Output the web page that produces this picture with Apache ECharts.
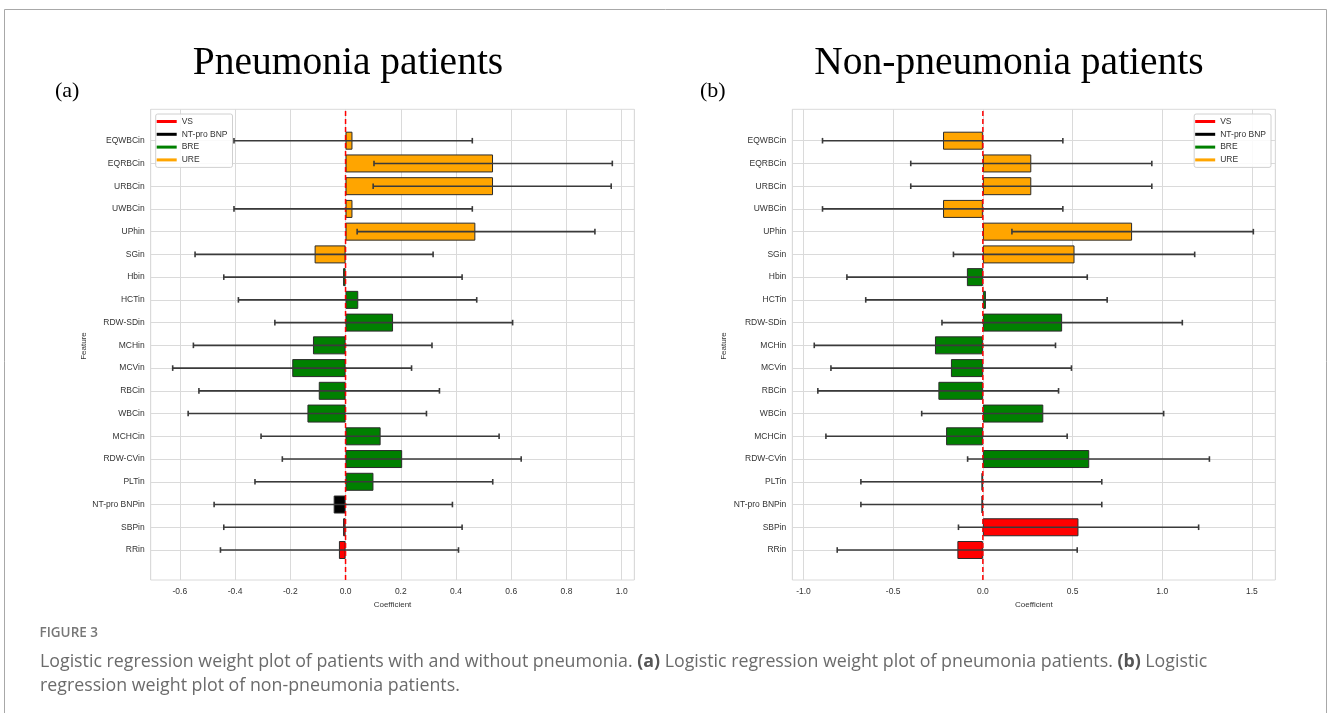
<!DOCTYPE html>
<html>
<head>
<meta charset="utf-8">
<title>Logistic regression weight plot</title>
<script src="https://cdn.jsdelivr.net/npm/echarts@6/dist/echarts.min.js"></script>
<style>
  html, body { margin: 0; padding: 0; background: #fff; }
  #chart { width: 1328px; height: 713px; }
</style>
</head>
<body>
<div id="chart"></div>
<script>
// Features, listed top to bottom
const features = ['EQWBCin', 'EQRBCin', 'URBCin', 'UWBCin', 'UPhin', 'SGin', 'Hbin', 'HCTin',
  'RDW-SDin', 'MCHin', 'MCVin', 'RBCin', 'WBCin', 'MCHCin', 'RDW-CVin', 'PLTin',
  'NT-pro BNPin', 'SBPin', 'RRin'];
const featureGroup = ['URE', 'URE', 'URE', 'URE', 'URE', 'URE', 'BRE', 'BRE',
  'BRE', 'BRE', 'BRE', 'BRE', 'BRE', 'BRE', 'BRE', 'BRE',
  'NT-pro BNP', 'VS', 'VS'];
const groups = ['VS', 'NT-pro BNP', 'BRE', 'URE'];
const groupColors = ['#ff0000', '#000000', '#008000', '#ffa500'];

// (a) pneumonia patients: coefficient with lower / upper bounds
const coefA = [0.025, 0.534, 0.534, 0.025, 0.470, -0.112, -0.009, 0.046,
  0.172, -0.118, -0.193, -0.097, -0.138, 0.127, 0.205, 0.101,
  -0.043, -0.009, -0.024];
const lowA = [-0.404, 0.103, 0.100, -0.404, 0.042, -0.545, -0.441, -0.388,
  -0.256, -0.551, -0.626, -0.531, -0.570, -0.306, -0.229, -0.328,
  -0.476, -0.441, -0.453];
const highA = [0.459, 0.966, 0.962, 0.459, 0.903, 0.317, 0.422, 0.475,
  0.605, 0.313, 0.239, 0.340, 0.293, 0.556, 0.636, 0.533,
  0.387, 0.422, 0.409];

// (b) non-pneumonia patients
const coefB = [-0.222, 0.270, 0.270, -0.222, 0.832, 0.511, -0.089, 0.017,
  0.442, -0.267, -0.178, -0.248, 0.337, -0.205, 0.593, -0.008,
  -0.008, 0.533, -0.142];
const lowB = [-0.894, -0.402, -0.402, -0.894, 0.162, -0.164, -0.758, -0.653,
  -0.228, -0.940, -0.847, -0.920, -0.341, -0.875, -0.085, -0.680,
  -0.680, -0.136, -0.812];
const highB = [0.446, 0.942, 0.942, 0.446, 1.508, 1.181, 0.582, 0.693,
  1.112, 0.405, 0.494, 0.422, 1.008, 0.470, 1.263, 0.663,
  0.663, 1.203, 0.526];

// Tick labels of the coefficient axes
const ticksA = [-0.6, -0.4, -0.2, 0.0, 0.2, 0.4, 0.6, 0.8, 1.0];
const ticksB = [-1.0, -0.5, 0.0, 0.5, 1.0, 1.5];
const zeroLine = [0];

const GRID_COLOR = '#dadada';
const TEXT_COLOR = '#333';
const SANS = '"Liberation Sans", Arial, sans-serif';
const CAPTION_FONT = '"Open Sans", "Noto Sans", sans-serif';

// axis extent: data range with a 5% margin on each side
function extent(low, high) {
  const lo = Math.min(...low), hi = Math.max(...high);
  const pad = (hi - lo) * 0.05;
  return [lo - pad, hi + pad];
}

function tickFormatter(ticks) {
  return function (v) {
    return ticks.some(t => Math.abs(t - v) < 1e-6) ? v.toFixed(1) : '';
  };
}

function panel(idx, frame, plotTop, plotHeight, coef, low, high, ticks, step, legendPos) {
  const ext = extent(low, high);
  const gFrame = idx * 2, gPlot = idx * 2 + 1;
  const grids = [
    { left: frame.left, top: frame.top, width: frame.width, height: frame.height,
      show: true, borderColor: GRID_COLOR, borderWidth: 1, backgroundColor: '#fff' },
    { left: frame.left, top: plotTop, width: frame.width, height: plotHeight }
  ];
  const xAxes = [
    { gridIndex: gFrame, type: 'value', min: ext[0], max: ext[1],
      splitNumber: Math.round((ext[1] - ext[0]) / step),
      minInterval: step, maxInterval: step,
      axisLine: { show: false }, axisTick: { show: false },
      splitLine: { show: true, lineStyle: { color: GRID_COLOR, width: 1 } },
      axisLabel: { formatter: tickFormatter(ticks), fontSize: 8.5, color: TEXT_COLOR,
        fontFamily: SANS, margin: 7 },
      name: 'Coefficient', nameLocation: 'middle', nameGap: 21,
      nameTextStyle: { fontSize: 8, color: TEXT_COLOR, fontFamily: SANS } },
    { gridIndex: gPlot, type: 'value', min: ext[0], max: ext[1], show: false }
  ];
  const yAxes = [
    { gridIndex: gFrame, type: 'value', min: 0, max: 1, show: false },
    { gridIndex: gPlot, type: 'category', data: features, inverse: true, boundaryGap: false,
      axisLine: { show: false }, axisTick: { show: false },
      splitLine: { show: true, interval: 0, lineStyle: { color: GRID_COLOR, width: 1 } },
      axisLabel: { interval: 0, fontSize: 8.5, color: TEXT_COLOR, fontFamily: SANS, margin: 6 } }
  ];
  const series = [];
  // dashed zero reference line across the whole frame
  series.push({
    type: 'custom', xAxisIndex: gFrame, yAxisIndex: gFrame, z: 5, silent: true,
    data: zeroLine.map(v => [v]),
    renderItem: function (params, api) {
      const a = api.coord([api.value(0), 0]);
      const b = api.coord([api.value(0), 1]);
      return { type: 'line', shape: { x1: a[0], y1: a[1], x2: b[0], y2: b[1] },
        style: { stroke: '#ff0000', lineWidth: 1.5, lineDash: [5, 3] } };
    }
  });
  // bars, one series per feature group
  groups.forEach((g, gi) => {
    series.push({
      type: 'bar', name: g, xAxisIndex: gPlot, yAxisIndex: gPlot,
      barWidth: 18, barGap: '-100%', z: 3,
      itemStyle: { color: groupColors[gi], borderColor: '#2b2b2b', borderWidth: 1 },
      data: coef.map((v, i) => featureGroup[i] === g ? v : '-')
    });
  });
  // error bars
  series.push({
    type: 'custom', xAxisIndex: gPlot, yAxisIndex: gPlot, z: 6, silent: true,
    encode: { x: [0, 1], y: 2 },
    data: features.map((f, i) => [low[i], high[i], i]),
    renderItem: function (params, api) {
      const p1 = api.coord([api.value(0), api.value(2)]);
      const p2 = api.coord([api.value(1), api.value(2)]);
      const cap = 2.8;
      const st = { stroke: '#3a3a3a', lineWidth: 1.6 };
      return { type: 'group', children: [
        { type: 'line', shape: { x1: p1[0], y1: p1[1], x2: p2[0], y2: p2[1] }, style: st },
        { type: 'line', shape: { x1: p1[0], y1: p1[1] - cap, x2: p1[0], y2: p1[1] + cap }, style: st },
        { type: 'line', shape: { x1: p2[0], y1: p2[1] - cap, x2: p2[0], y2: p2[1] + cap }, style: st }
      ] };
    }
  });
  const legend = Object.assign({
    data: groups, orient: 'vertical', top: 114,
    icon: 'rect', itemWidth: 20, itemHeight: 3, itemGap: 1.8,
    itemStyle: { borderWidth: 0 },
    padding: [2, 5, 2, 1],
    backgroundColor: 'rgba(255,255,255,0.85)', borderColor: '#d0d0d0', borderWidth: 1, borderRadius: 2,
    textStyle: { fontSize: 8.5, color: TEXT_COLOR, fontFamily: SANS, lineHeight: 11 },
    selectedMode: false
  }, legendPos);
  return { grids, xAxes, yAxes, series, legend };
}

const pa = panel(0, { left: 150.7, top: 109.3, width: 483.6, height: 470.7 }, 140.7, 409.3,
  coefA, lowA, highA, ticksA, 0.2, { left: 155.7 });
const pb = panel(1, { left: 792.3, top: 109.3, width: 483, height: 470.7 }, 140.7, 409.3,
  coefB, lowB, highB, ticksB, 0.5, { right: 57 });

const captionStyle = { fontFamily: CAPTION_FONT, fontSize: 17.8, fill: '#6b6b6b' };
const boldRich = { b: { fontFamily: CAPTION_FONT, fontSize: 17.8, fontWeight: 'bold', fill: '#555' } };

const option = {
  animation: false,
  backgroundColor: '#fff',
  grid: pa.grids.concat(pb.grids),
  xAxis: pa.xAxes.concat(pb.xAxes),
  yAxis: pa.yAxes.concat(pb.yAxes),
  legend: [pa.legend, pb.legend],
  series: pa.series.concat(pb.series),
  graphic: [
    { type: 'rect', z: 100, silent: true,
      shape: { x: 4.5, y: 9.5, width: 1322, height: 720 },
      style: { fill: 'none', stroke: '#a8a8a8', lineWidth: 1 } },
    { type: 'text', x: 348, y: 64, silent: true,
      style: { text: 'Pneumonia patients', font: '39.5px "Liberation Serif", "Times New Roman", serif',
        fill: '#000', align: 'center', verticalAlign: 'middle' } },
    { type: 'text', x: 1009, y: 64, silent: true,
      style: { text: 'Non-pneumonia patients', font: '39.5px "Liberation Serif", "Times New Roman", serif',
        fill: '#000', align: 'center', verticalAlign: 'middle' } },
    { type: 'text', x: 55, y: 91, silent: true,
      style: { text: '(a)', font: '22px "Liberation Serif", "Times New Roman", serif',
        fill: '#000', align: 'left', verticalAlign: 'middle' } },
    { type: 'text', x: 700, y: 91, silent: true,
      style: { text: '(b)', font: '22px "Liberation Serif", "Times New Roman", serif',
        fill: '#000', align: 'left', verticalAlign: 'middle' } },
    { type: 'text', x: 84, y: 346, rotation: Math.PI / 2, silent: true,
      style: { text: 'Feature', fontSize: 8, fontFamily: SANS, fill: TEXT_COLOR,
        align: 'center', verticalAlign: 'middle' } },
    { type: 'text', x: 724, y: 346, rotation: Math.PI / 2, silent: true,
      style: { text: 'Feature', fontSize: 8, fontFamily: SANS, fill: TEXT_COLOR,
        align: 'center', verticalAlign: 'middle' } },
    { type: 'text', x: 39.5, y: 633, silent: true,
      style: { text: 'FIGURE 3', fontFamily: CAPTION_FONT, fontSize: 13.5,
        fontWeight: 600, fill: '#777', align: 'left', verticalAlign: 'middle' } },
    { type: 'text', x: 40, y: 661.5, silent: true,
      style: Object.assign({
        text: 'Logistic regression weight plot of patients with and without pneumonia. {b|(a)} Logistic regression weight plot of pneumonia patients. {b|(b)} Logistic',
        rich: boldRich, align: 'left', verticalAlign: 'middle' }, captionStyle) },
    { type: 'text', x: 40, y: 685.5, silent: true,
      style: Object.assign({
        text: 'regression weight plot of non-pneumonia patients.',
        align: 'left', verticalAlign: 'middle' }, captionStyle) }
  ]
};

const chart = echarts.init(document.getElementById('chart'), null, { renderer: 'canvas' });
chart.setOption(option);
</script>
</body>
</html>
